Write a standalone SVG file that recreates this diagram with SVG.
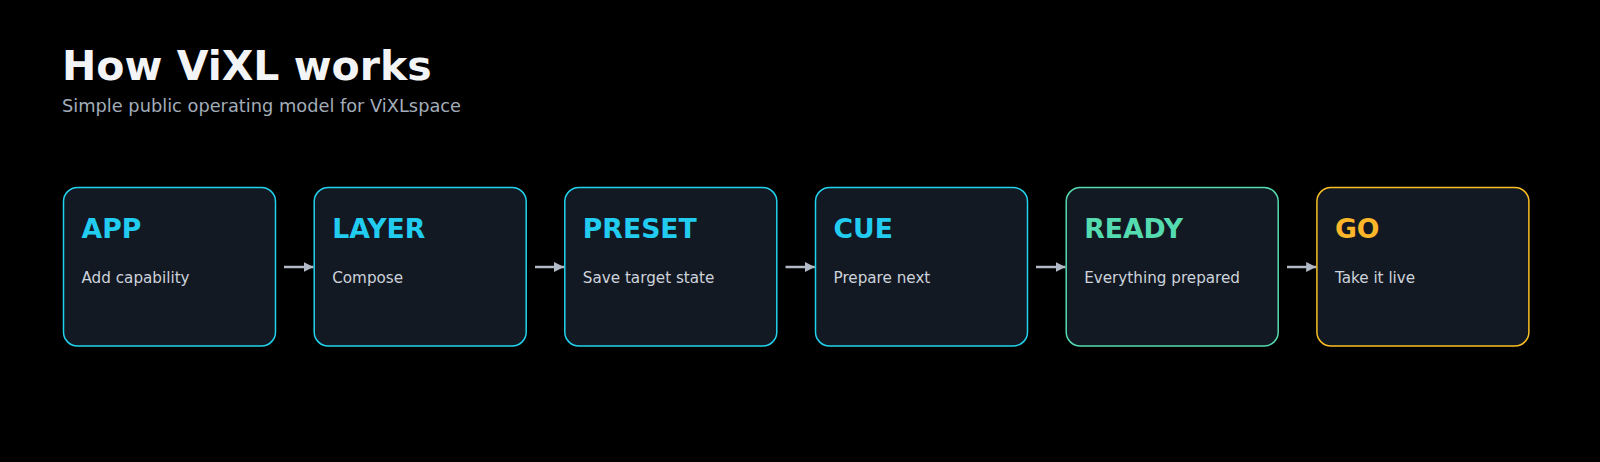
<svg xmlns="http://www.w3.org/2000/svg" width="1600" height="462" viewBox="0 0 1600 462">
  <defs>
    <marker id="arrow" viewBox="0 0 10 10" refX="10" refY="5" markerWidth="10" markerHeight="10" markerUnits="userSpaceOnUse" orient="auto">
      <path d="M0,0 L10,5 L0,10 Z" fill="#b1bac6"/>
    </marker>
    <style>
      .title{font-family:"DejaVu Sans",sans-serif;font-weight:bold;font-size:41px;fill:#f3f4f6}
      .sub{font-family:"DejaVu Sans",sans-serif;font-size:17.8px;fill:#a3adb9}
      .box{fill:#131922;stroke-width:1.5}
      .lbl{font-family:"DejaVu Sans",sans-serif;font-weight:bold;font-size:26.7px}
      .desc{font-family:"DejaVu Sans",sans-serif;font-size:15.2px;fill:#cdd3dc}
      .conn{stroke:#b1bac6;stroke-width:2.5;fill:none}
      .cyan{stroke:#22d3ee}
      .green{stroke:#55dbb0}
      .amber{stroke:#fbbf24}
    </style>
  </defs>
  <rect width="1600" height="462" fill="#000"/>
  <text class="title" x="62" y="80">How ViXL works</text>
  <text class="sub" x="62" y="112">Simple public operating model for ViXLspace</text>

  <g id="connectors">
    <line class="conn" x1="284" y1="267" x2="313.5" y2="267" marker-end="url(#arrow)"/>
    <line class="conn" x1="535" y1="267" x2="564" y2="267" marker-end="url(#arrow)"/>
    <line class="conn" x1="785.5" y1="267" x2="814.8" y2="267" marker-end="url(#arrow)"/>
    <line class="conn" x1="1036" y1="267" x2="1065.5" y2="267" marker-end="url(#arrow)"/>
    <line class="conn" x1="1287" y1="267" x2="1316.2" y2="267" marker-end="url(#arrow)"/>
  </g>

  <g id="node-app">
    <rect class="box cyan" x="63.5" y="187.5" width="212" height="158.5" rx="14"/>
    <text class="lbl" x="81.5" y="238" fill="#22ccf0">APP</text>
    <text class="desc" x="81.5" y="283">Add capability</text>
  </g>
  <g id="node-layer">
    <rect class="box cyan" x="314.2" y="187.5" width="212" height="158.5" rx="14"/>
    <text class="lbl" x="332.2" y="238" fill="#22ccf0">LAYER</text>
    <text class="desc" x="332.2" y="283">Compose</text>
  </g>
  <g id="node-preset">
    <rect class="box cyan" x="564.8" y="187.5" width="212" height="158.5" rx="14"/>
    <text class="lbl" x="582.8" y="238" fill="#22ccf0">PRESET</text>
    <text class="desc" x="582.8" y="283">Save target state</text>
  </g>
  <g id="node-cue">
    <rect class="box cyan" x="815.5" y="187.5" width="212" height="158.5" rx="14"/>
    <text class="lbl" x="833.5" y="238" fill="#22ccf0">CUE</text>
    <text class="desc" x="833.5" y="283">Prepare next</text>
  </g>
  <g id="node-ready">
    <rect class="box green" x="1066.2" y="187.5" width="212" height="158.5" rx="14"/>
    <text class="lbl" x="1084.2" y="238" fill="#55dbb0">READY</text>
    <text class="desc" x="1084.2" y="283">Everything prepared</text>
  </g>
  <g id="node-go">
    <rect class="box amber" x="1316.9" y="187.5" width="212" height="158.5" rx="14"/>
    <text class="lbl" x="1334.9" y="238" fill="#fbb62a">GO</text>
    <text class="desc" x="1334.9" y="283">Take it live</text>
  </g>
</svg>
